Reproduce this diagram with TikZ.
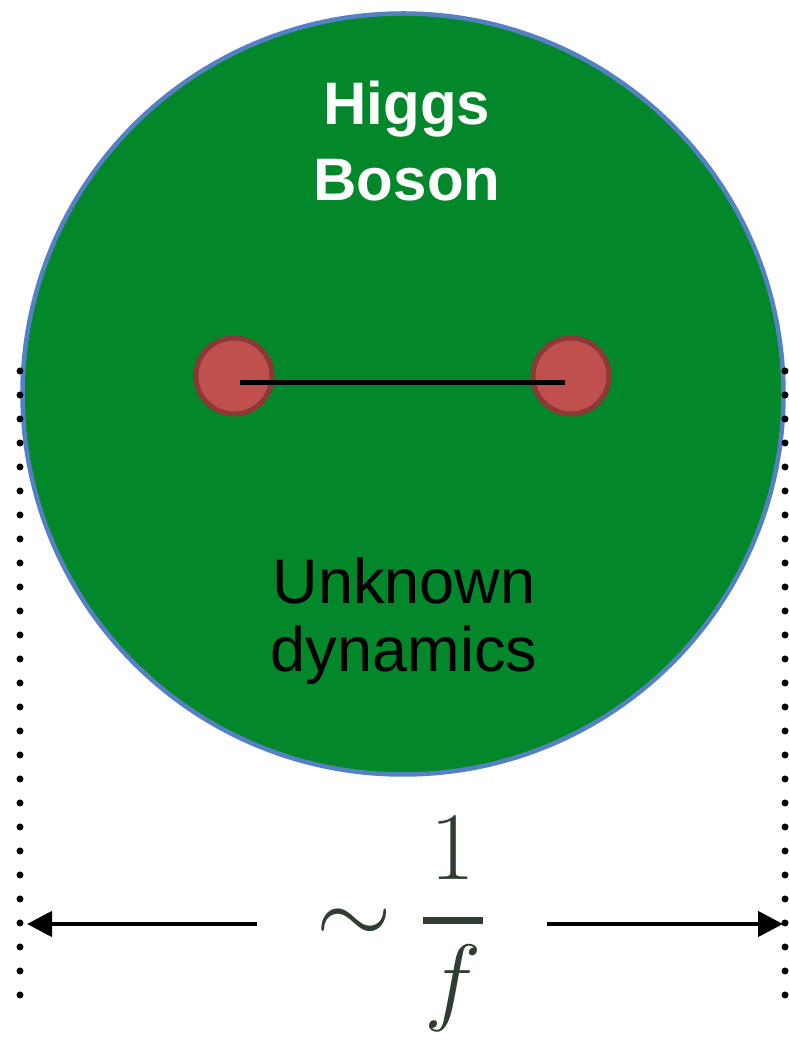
\documentclass[tikz,border=0pt]{standalone}
\usepackage[no-math]{fontspec}
\newfontfamily\labelfont{Liberation Sans}
\usepackage{xcolor}
\usepackage{tikz}
\usetikzlibrary{arrows.meta}

\definecolor{higgsgreen}{RGB}{3,135,43}
\definecolor{rimblue}{RGB}{86,128,196}
\definecolor{quarkred}{RGB}{192,80,77}
\definecolor{quarkrim}{RGB}{140,56,54}
\definecolor{scaleink}{RGB}{47,62,48}

\begin{document}
\begin{tikzpicture}[
    x=1pt, y=1pt,
    ball/.style={circle, draw=rimblue, line width=4.5pt, fill=higgsgreen, minimum size=761pt, inner sep=0pt},
    quark/.style={circle, draw=quarkrim, line width=5pt, fill=quarkred, minimum size=76pt, inner sep=0pt},
    bond/.style={line width=5pt, black},
    guide/.style={line width=7pt, line cap=round, dash pattern=on 0pt off 24pt},
    dimarrow/.style={-{Triangle[length=25pt, width=25pt]}, line width=4.5pt, black}
]
    \useasboundingbox (0,0) rectangle (789,1044);

    \node (higgs) [ball] at (403,650) {};
    \node (title) [anchor=north, align=center, text=white, inner sep=0pt,
        font=\labelfont\bfseries\fontsize{60}{76}\selectfont] at (407,963) {Higgs\\Boson};
    \node (inside) [anchor=north, align=center, text=black, inner sep=0pt,
        font=\labelfont\fontsize{63}{68}\selectfont] at (404,486) {Unknown\\dynamics};

    \node (q1) [quark] at (234,668) {};
    \node (q2) [quark] at (571,668) {};
    \draw [bond] ([xshift=6pt, yshift=-7pt]q1.center) -- ([xshift=-6pt, yshift=-7pt]q2.center);

    \coordinate (ltop) at (20,673);
    \coordinate (lbot) at (20,49);
    \coordinate (rtop) at (785,673);
    \coordinate (rbot) at (785,49);
    \draw [guide] (ltop) -- (lbot);
    \draw [guide] (rtop) -- (rbot);

    \node (size) [minimum width=73.8pt, inner sep=0pt, scale=3.9, text=scaleink,
        font=\Huge] at (402,120) {$\displaystyle\sim{\kern2pt1\kern2pt\above1.8pt f}$};
    \coordinate (ltip) at (27,120);
    \coordinate (rtip) at (783,120);
    \path [dimarrow] (size) edge (ltip);
    \path [dimarrow] (size) edge (rtip);
\end{tikzpicture}
\end{document}
